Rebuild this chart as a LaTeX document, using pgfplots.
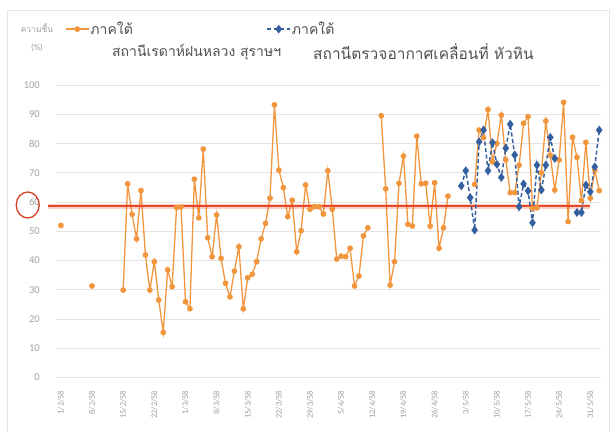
\documentclass[border=0pt]{standalone}
\usepackage{pgfplots}
\pgfplotsset{compat=1.18}
\usepackage{fontspec}
\setmainfont{Carlito}
\newfontfamily\thaifont[Script=Thai]{Loma}
\definecolor{orangec}{RGB}{242,150,62}
\definecolor{bluec}{RGB}{52,96,160}
\definecolor{redc}{RGB}{232,72,40}
\definecolor{labelgray}{RGB}{160,160,160}
\definecolor{legendgray}{RGB}{80,80,80}
\begin{document}
\begin{tikzpicture}
\path[use as bounding box] (0,0) rectangle (613pt,432pt);
\draw[gray!20, line width=0.8pt] (7pt,0pt) -- (7pt,422pt) -- (609pt,422pt) -- (609pt,0pt);
\begin{axis}[
  at={(56pt,54.5pt)}, anchor=south west,
  scale only axis, width=545pt, height=292.5pt,
  xmin=-1.1, xmax=121.4, ymin=0, ymax=100,
  axis line style={draw=none},
  major tick length=0pt,
  ytick={0,10,...,100},
  ymajorgrids, grid style={color=gray!22, line width=0.8pt},
  xtick={0,7,...,119},
  xticklabels={1/2/58,8/2/58,15/2/58,22/2/58,1/3/58,8/3/58,15/3/58,22/3/58,29/3/58,5/4/58,12/4/58,19/4/58,26/4/58,3/5/58,10/5/58,17/5/58,24/5/58,31/5/58},
  xticklabel style={rotate=90, anchor=east, inner sep=0pt, font=\fontsize{8.5}{10}\selectfont, text=labelgray},
  xticklabel shift=13pt,
  yticklabel style={anchor=east, inner sep=0pt, font=\fontsize{10.5}{12}\selectfont, text=labelgray},
  yticklabel shift=16pt,
  /pgf/number format/assume math mode=true,
  unbounded coords=jump,
  clip=false,
  legend columns=2,
  legend style={draw=none, fill=none, inner sep=0pt, at={(0.0165,1.191)}, anchor=west,
    font=\thaifont\fontsize{14}{16}\selectfont, text=legendgray,
    nodes={inner sep=1pt}, column sep=0pt,
    /tikz/every even column/.style={column sep=0pt}},
  legend cell align=left,
  legend image code/.code={\draw[mark repeat=2, mark phase=2, #1] plot coordinates {(0pt,0pt) (11.5pt,0pt) (23pt,0pt)};},
]
\addplot[color=orangec, line width=1.3pt, mark=*, mark size=2.2pt, mark options={fill=orangec}] coordinates {
(0,52) (1,nan) (7,31.3) (8,nan)
(14,29.9) (15,66.2) (16,55.8) (17,47.4) (18,63.9) (19,41.9) (20,29.9) (21,39.6) (22,26.5) (23,15.4)
(24,36.8) (25,31.1) (26,58.1) (27,58.3) (28,25.9) (29,23.5) (30,67.8) (31,54.6) (32,78.1) (33,47.8)
(34,41.3) (35,55.6) (36,40.7) (37,32.2) (38,27.6) (39,36.4) (40,44.7) (41,23.5) (42,34.1) (43,35.3)
(44,39.6) (45,47.4) (46,52.7) (47,61.3) (48,93.2) (49,70.9) (50,64.9) (51,55.0) (52,60.6) (53,43.0)
(54,50.2) (55,65.8) (56,57.5) (57,58.4) (58,58.4) (59,55.9) (60,70.7) (61,57.5) (62,40.5) (63,41.5)
(64,41.3) (65,44.2) (66,31.3) (67,34.7) (68,48.4) (69,51.2) (70,nan)
(72,89.5) (73,64.5) (74,31.6) (75,39.6) (76,66.4) (77,75.7) (78,52.4) (79,51.8) (80,82.5) (81,66.2)
(82,66.4) (83,51.8) (84,66.6) (85,44.2) (86,51.2) (87,62.0) (88,nan)
(93,66.0) (94,84.6) (95,82) (96,91.6) (97,73.8) (98,80) (99,89.7) (100,74.4) (101,63.2) (102,63.2)
(103,72.6) (104,86.9) (105,89.2) (106,57.8) (107,58) (108,70) (109,87.7) (110,76) (111,64.1) (112,74.4)
(113,94.1) (114,53.3) (115,82.1) (116,75.3) (117,60.5) (118,80.4) (119,61.3) (120,70.9) (121,63.9)
};
\addlegendentry{\makebox[175pt][l]{ภาคใต้}}
\addplot[forget plot, color=redc, opacity=0.25, line width=5pt] coordinates {(-2.8,58.6) (119,58.6)};
\addplot[forget plot, color=redc, line width=2.4pt] coordinates {(-2.8,58.6) (119,58.6)};
\addplot[color=bluec, line width=1.5pt, dash pattern=on 4pt off 2.5pt, mark=diamond*, mark size=3.2pt, mark options={solid, fill=bluec}] coordinates {
(90,65.5) (91,70.7) (92,61.5) (93,50.4) (94,80.6) (95,84.6) (96,70.7) (97,80.3) (98,72.9) (99,68.4)
(100,78.4) (101,86.6) (102,76.1) (103,58.4) (104,66.2) (105,63.8) (106,52.9) (107,72.6) (108,64.1) (109,72.6)
(110,82.1) (111,74.9) (112,nan)
(116,56.4) (117,56.4) (118,65.8) (119,63.5) (120,72.0) (121,84.6)
};
\addlegendentry{ภาคใต้}
\end{axis}
\draw[color=redc!90!black, line width=1.3pt] (27.7pt,227pt) ellipse (11.5pt and 13pt);
\node[anchor=center, text=labelgray, font=\thaifont\fontsize{8.5}{9}\selectfont] at (37pt,404pt) {ความชื้น};
\node[anchor=center, text=labelgray, font=\fontsize{9}{10}\selectfont] at (37pt,384pt) {(\%)};
\node[anchor=west, inner sep=0pt, text=legendgray, font=\thaifont\fontsize{14}{16}\selectfont] at (112pt,380pt) {สถานีเรดาห์ฝนหลวง สุราษฯ};
\node[anchor=west, inner sep=0pt, text=legendgray, font=\thaifont\fontsize{15.5}{17}\selectfont] at (313pt,380pt) {สถานีตรวจอากาศเคลื่อนที่ หัวหิน};
\end{tikzpicture}
\end{document}
